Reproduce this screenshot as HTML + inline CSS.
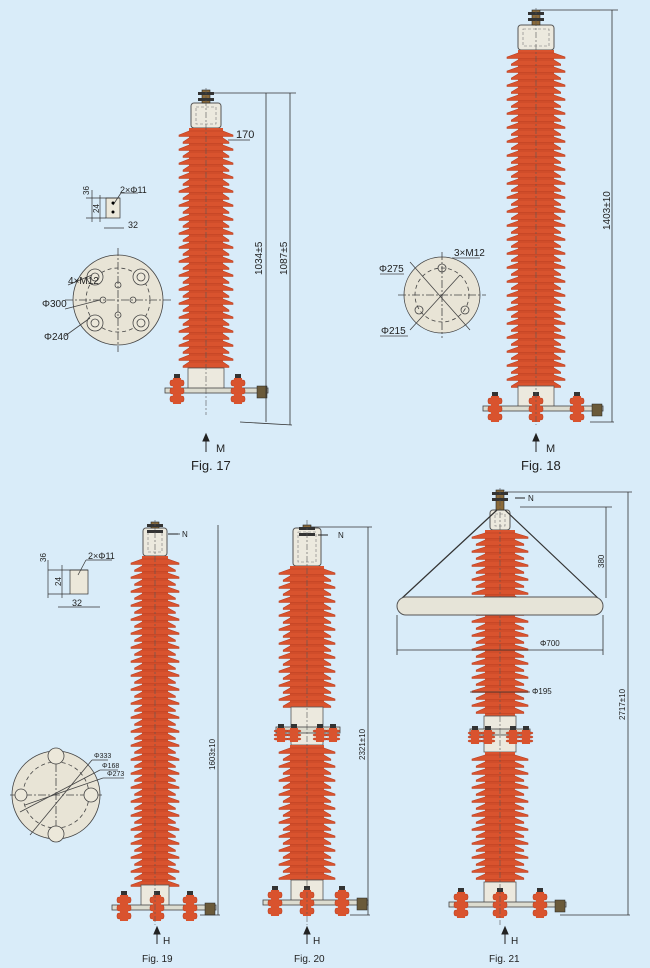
<!DOCTYPE html>
<html><head><meta charset="utf-8">
<style>
html,body{margin:0;padding:0;background:#d9ecf9;}
svg{display:block;font-family:"Liberation Sans",sans-serif;}
</style></head>
<body>
<svg id="s" width="650" height="968" viewBox="0 0 650 968" xmlns="http://www.w3.org/2000/svg">
<rect width="650" height="968" fill="#d9ecf9"/>
<g id="cols"></g>
<g stroke="#333" stroke-width="0.8" fill="none">
<line x1="210" y1="93" x2="296" y2="93"/>
<line x1="266" y1="93" x2="266" y2="422"/>
<line x1="290" y1="93" x2="290" y2="425"/>
<line x1="240" y1="422" x2="292" y2="425"/>
<line x1="228" y1="140" x2="250" y2="140"/>
<line x1="540" y1="10" x2="618" y2="10"/>
<line x1="612" y1="10" x2="612" y2="422"/>
<line x1="590" y1="422" x2="614" y2="422"/>
<line x1="218" y1="525" x2="218" y2="915"/>
<line x1="200" y1="915" x2="220" y2="915"/>
<line x1="170" y1="534" x2="180" y2="534"/>
<line x1="310" y1="527" x2="372" y2="527"/>
<line x1="368" y1="527" x2="368" y2="915"/>
<line x1="350" y1="915" x2="370" y2="915"/>
<line x1="505" y1="492" x2="632" y2="492"/>
<line x1="628" y1="492" x2="628" y2="915"/>
<line x1="560" y1="915" x2="630" y2="915"/>
<line x1="520" y1="507" x2="612" y2="507"/>
<line x1="606" y1="507" x2="606" y2="598"/>
<line x1="397" y1="650" x2="603" y2="650"/>
<line x1="397" y1="615" x2="397" y2="655"/>
<line x1="603" y1="615" x2="603" y2="655"/>
<line x1="470" y1="692" x2="530" y2="692"/>
<line x1="497" y1="510" x2="400" y2="600" stroke-width="1.2"/>
<line x1="505" y1="510" x2="600" y2="600" stroke-width="1.2"/>
</g>
<rect x="397" y="597" width="206" height="18" rx="9" fill="#e6e4d8" stroke="#555" stroke-width="1"/>
<g stroke="#333" stroke-width="0.7" fill="none">
<rect x="106" y="198" width="14" height="20" fill="#ece8da"/>
<line x1="86" y1="198" x2="120" y2="198"/><line x1="86" y1="218" x2="106" y2="218"/>
<line x1="92" y1="190" x2="92" y2="222"/><line x1="100" y1="195" x2="100" y2="222"/>
<line x1="104" y1="228" x2="124" y2="228"/>
<line x1="113" y1="205" x2="121" y2="193"/><line x1="121" y1="193" x2="138" y2="193"/>
</g>
<circle cx="113" cy="203" r="1.5"/><circle cx="113" cy="212" r="1.5"/>
<g stroke="#444" stroke-width="0.8">
<circle cx="118" cy="300" r="45" fill="#e8e4d6"/>
<circle cx="118" cy="300" r="32" fill="none" stroke-dasharray="4 3"/>
<line x1="65" y1="300" x2="171" y2="300" stroke-dasharray="8 2 2 2" fill="none"/>
<line x1="118" y1="248" x2="118" y2="352" stroke-dasharray="8 2 2 2" fill="none"/>
<circle cx="95" cy="277" r="8" fill="#ece8da"/><circle cx="141" cy="277" r="8" fill="#ece8da"/>
<circle cx="95" cy="323" r="8" fill="#ece8da"/><circle cx="141" cy="323" r="8" fill="#ece8da"/>
<circle cx="95" cy="277" r="4" fill="none"/><circle cx="141" cy="277" r="4" fill="none"/>
<circle cx="95" cy="323" r="4" fill="none"/><circle cx="141" cy="323" r="4" fill="none"/>
<circle cx="118" cy="285" r="3" fill="none"/><circle cx="118" cy="315" r="3" fill="none"/>
<circle cx="103" cy="300" r="3" fill="none"/><circle cx="133" cy="300" r="3" fill="none"/>
<line x1="68" y1="285" x2="92" y2="275" fill="none"/><line x1="65" y1="309" x2="100" y2="300" fill="none"/>
<line x1="65" y1="336" x2="90" y2="318" fill="none"/>
</g>
<g stroke="#444" stroke-width="0.8" fill="none">
<circle cx="442" cy="295" r="38" fill="#e8e4d6"/>
<circle cx="442" cy="295" r="27" stroke-dasharray="4 3"/>
<line x1="398" y1="295" x2="486" y2="295" stroke-dasharray="8 2 2 2"/>
<line x1="442" y1="252" x2="442" y2="338" stroke-dasharray="8 2 2 2"/>
<circle cx="442" cy="268" r="4"/><circle cx="465" cy="310" r="4"/><circle cx="419" cy="310" r="4"/>
<line x1="410" y1="262" x2="470" y2="330"/><line x1="410" y1="330" x2="460" y2="275"/>
<line x1="452" y1="258" x2="480" y2="258"/><line x1="380" y1="336" x2="408" y2="336"/><line x1="380" y1="274" x2="404" y2="274"/>
</g>
<g stroke="#333" stroke-width="0.7" fill="none">
<rect x="70" y="570" width="18" height="24" fill="#ece8da"/>
<line x1="48" y1="570" x2="88" y2="570"/><line x1="48" y1="594" x2="70" y2="594"/>
<line x1="48" y1="560" x2="48" y2="598"/><line x1="62" y1="565" x2="62" y2="598"/>
<line x1="58" y1="607" x2="100" y2="607"/>
<line x1="78" y1="575" x2="86" y2="560"/><line x1="86" y1="560" x2="112" y2="560"/>
</g>
<g stroke="#444" stroke-width="0.8">
<circle cx="56" cy="795" r="44" fill="#e8e4d6"/>
<circle cx="56" cy="795" r="33" fill="none" stroke-dasharray="4 3"/>
<line x1="10" y1="795" x2="102" y2="795" stroke-dasharray="8 2 2 2" fill="none"/>
<line x1="56" y1="750" x2="56" y2="840" stroke-dasharray="8 2 2 2" fill="none"/>
<circle cx="56" cy="756" r="8" fill="#ece8da"/><circle cx="56" cy="834" r="8" fill="#ece8da"/>
<circle cx="21" cy="795" r="6" fill="#ece8da"/><circle cx="91" cy="795" r="7" fill="#ece8da"/>
<line x1="30" y1="835" x2="92" y2="760" fill="none"/><line x1="20" y1="812" x2="100" y2="770" fill="none"/><line x1="25" y1="805" x2="103" y2="778" fill="none"/>
<line x1="92" y1="760" x2="108" y2="760" fill="none"/><line x1="100" y1="770" x2="118" y2="770" fill="none"/><line x1="103" y1="778" x2="124" y2="778" fill="none"/>
</g>
<g stroke="#222" stroke-width="1" fill="#222">
<line x1="206" y1="437" x2="206" y2="452"/><path d="M203,441 L206,434 L209,441Z"/>
<line x1="536" y1="437" x2="536" y2="452"/><path d="M533,441 L536,434 L539,441Z"/>
<line x1="157" y1="930" x2="157" y2="944"/><path d="M154,934 L157,927 L160,934Z"/>
<line x1="307" y1="930" x2="307" y2="944"/><path d="M304,934 L307,927 L310,934Z"/>
<line x1="505" y1="930" x2="505" y2="944"/><path d="M502,934 L505,927 L508,934Z"/>
<line x1="168" y1="534" x2="178" y2="534"/><line x1="318" y1="535" x2="328" y2="535"/><line x1="515" y1="498" x2="525" y2="498"/>
</g>
<g fill="#222" font-size="9">
<text x="236" y="138" font-size="11">170</text>
<text x="120" y="193" font-size="9">2×Φ11</text>
<text x="81" y="193" font-size="8" transform="rotate(-90 86 190)">36</text>
<text x="98" y="212" font-size="8" transform="rotate(-90 99 212)">24</text>
<text x="128" y="228" font-size="9">32</text>
<text x="68" y="284" font-size="10">4×M12</text>
<text x="42" y="307" font-size="10">Φ300</text>
<text x="44" y="340" font-size="10">Φ240</text>
<text x="262" y="275" font-size="10" transform="rotate(-90 262 275)">1034±5</text>
<text x="287" y="275" font-size="10" transform="rotate(-90 287 275)">1087±5</text>
<text x="191" y="470" font-size="13">Fig. 17</text>
<text x="216" y="452" font-size="11">M</text>
<text x="454" y="256" font-size="10">3×M12</text>
<text x="379" y="272" font-size="10">Φ275</text>
<text x="381" y="334" font-size="10">Φ215</text>
<text x="610" y="230" font-size="10" transform="rotate(-90 610 230)">1403±10</text>
<text x="521" y="470" font-size="13">Fig. 18</text>
<text x="546" y="452" font-size="11">M</text>
<text x="88" y="559" font-size="9">2×Φ11</text>
<text x="46" y="562" font-size="8" transform="rotate(-90 46 562)">36</text>
<text x="61" y="586" font-size="8" transform="rotate(-90 61 586)">24</text>
<text x="72" y="606" font-size="9">32</text>
<text x="94" y="758" font-size="7">Φ333</text>
<text x="102" y="768" font-size="7">Φ168</text>
<text x="107" y="776" font-size="7">Φ273</text>
<text x="182" y="537" font-size="8">N</text>
<text x="215" y="770" font-size="8" transform="rotate(-90 215 770)">1603±10</text>
<text x="142" y="962" font-size="10">Fig. 19</text>
<text x="163" y="944" font-size="10">H</text>
<text x="338" y="538" font-size="8">N</text>
<text x="365" y="760" font-size="8" transform="rotate(-90 365 760)">2321±10</text>
<text x="294" y="962" font-size="10">Fig. 20</text>
<text x="313" y="944" font-size="10">H</text>
<text x="528" y="501" font-size="8">N</text>
<text x="604" y="568" font-size="8" transform="rotate(-90 604 568)">380</text>
<text x="540" y="646" font-size="8">Φ700</text>
<text x="532" y="694" font-size="8">Φ195</text>
<text x="625" y="720" font-size="8" transform="rotate(-90 625 720)">2717±10</text>
<text x="489" y="962" font-size="10">Fig. 21</text>
<text x="511" y="944" font-size="10">H</text>
</g>
</svg>
<script>
var NS="http://www.w3.org/2000/svg",g=document.getElementById("cols");
function el(t,a){var e=document.createElementNS(NS,t);for(var k in a)e.setAttribute(k,a[k]);g.appendChild(e);return e;}
var RED="#d9532e",DRED="#b73c1f";
function sheds(cx,y1,y2,cw,sw,pitch){
 el("rect",{x:cx-cw/2,y:y1,width:cw,height:y2-y1,fill:RED});
 var i=0;for(var y=y1+4;y<y2-2;y+=pitch/2,i++){var w=(i%2==0)?sw:sw*0.85;
  el("path",{d:"M"+(cx-w/2)+","+(y+3)+" L"+(cx-cw/2)+","+(y-1)+" L"+(cx+cw/2)+","+(y-1)+" L"+(cx+w/2)+","+(y+3)+" L"+(cx+w/2)+","+(y+4.5)+" L"+(cx-w/2)+","+(y+4.5)+"Z",fill:RED,stroke:DRED,"stroke-width":0.6});}
}
function cap(cx,y1,y2,w,ty){
 el("rect",{x:cx-w/2,y:y1,width:w,height:y2-y1,rx:3,fill:"#ece9de",stroke:"#555","stroke-width":1});
 el("rect",{x:cx-w/2+5,y:y1+4,width:w-10,height:y2-y1-8,fill:"none",stroke:"#777","stroke-width":0.6,"stroke-dasharray":"3 2"});
 el("rect",{x:cx-4,y:ty,width:8,height:y1-ty,fill:"#8a6a3a",stroke:"#222","stroke-width":0.6});
 el("rect",{x:cx-8,y:ty+2,width:16,height:3,fill:"#333"});el("rect",{x:cx-8,y:ty+8,width:16,height:3,fill:"#333"});
}
function unit(cx,y,h){
 el("rect",{x:cx-3,y:y-4,width:6,height:6,fill:"#333"});
 for(var k=0;k<3;k++)el("rect",{x:cx-7,y:y+2+k*h/3,width:14,height:h/3-2,rx:2,fill:RED,stroke:DRED,"stroke-width":0.5});
 el("rect",{x:cx-4,y:y,width:8,height:h+2,fill:RED});
}
function base(cx,y,w,units,ext){
 el("rect",{x:cx-w/2,y:y,width:w,height:22,fill:"#ece9de",stroke:"#555","stroke-width":0.8});
 el("rect",{x:units[0]-12,y:y+20,width:(units[units.length-1]-units[0])+24+(ext||0),height:5,fill:"#dcdcd0",stroke:"#444","stroke-width":0.8});
 units.forEach(function(u){unit(u,y+10,24);});
 if(ext){var ex=units[units.length-1]+ext+6;el("rect",{x:ex-5,y:y+18,width:10,height:12,fill:"#6a5a3a",stroke:"#222","stroke-width":0.5});}
}
function center(cx,y1,y2){el("line",{x1:cx,y1:y1,x2:cx,y2:y2,stroke:"#555","stroke-width":0.6,"stroke-dasharray":"6 2 2 2"});}
cap(206,103,128,30,90);sheds(206,128,368,34,54,14);base(206,368,36,[177,238],18);center(206,88,415);
cap(536,25,50,36,10);sheds(536,50,386,36,58,14);base(536,386,36,[495,536,577],14);center(536,8,425);
cap(155,528,556,24,522);sheds(155,556,885,26,48,14);base(155,885,28,[124,157,190],14);center(155,520,925);
cap(307,528,566,28,525);sheds(307,566,707,34,56,14);
el("rect",{x:291,y:707,width:32,height:38,fill:"#ece9de",stroke:"#555","stroke-width":0.8});
el("rect",{x:276,y:727,width:64,height:6,fill:"#dcdcd0",stroke:"#444","stroke-width":0.8});
[281,294,320,333].forEach(function(u){unit(u,728,12);});
sheds(307,745,880,34,56,14);base(307,880,32,[275,307,342],14);center(307,520,925);
cap(500,510,530,20,490);sheds(500,530,716,30,56,14);
el("rect",{x:484,y:716,width:32,height:36,fill:"#ece9de",stroke:"#555","stroke-width":0.8});
el("rect",{x:470,y:729,width:60,height:6,fill:"#dcdcd0",stroke:"#444","stroke-width":0.8});
[475,488,513,526].forEach(function(u){unit(u,730,12);});
sheds(500,752,882,30,56,14);base(500,882,32,[461,500,540],14);center(500,488,925);
</script>
</body></html>
